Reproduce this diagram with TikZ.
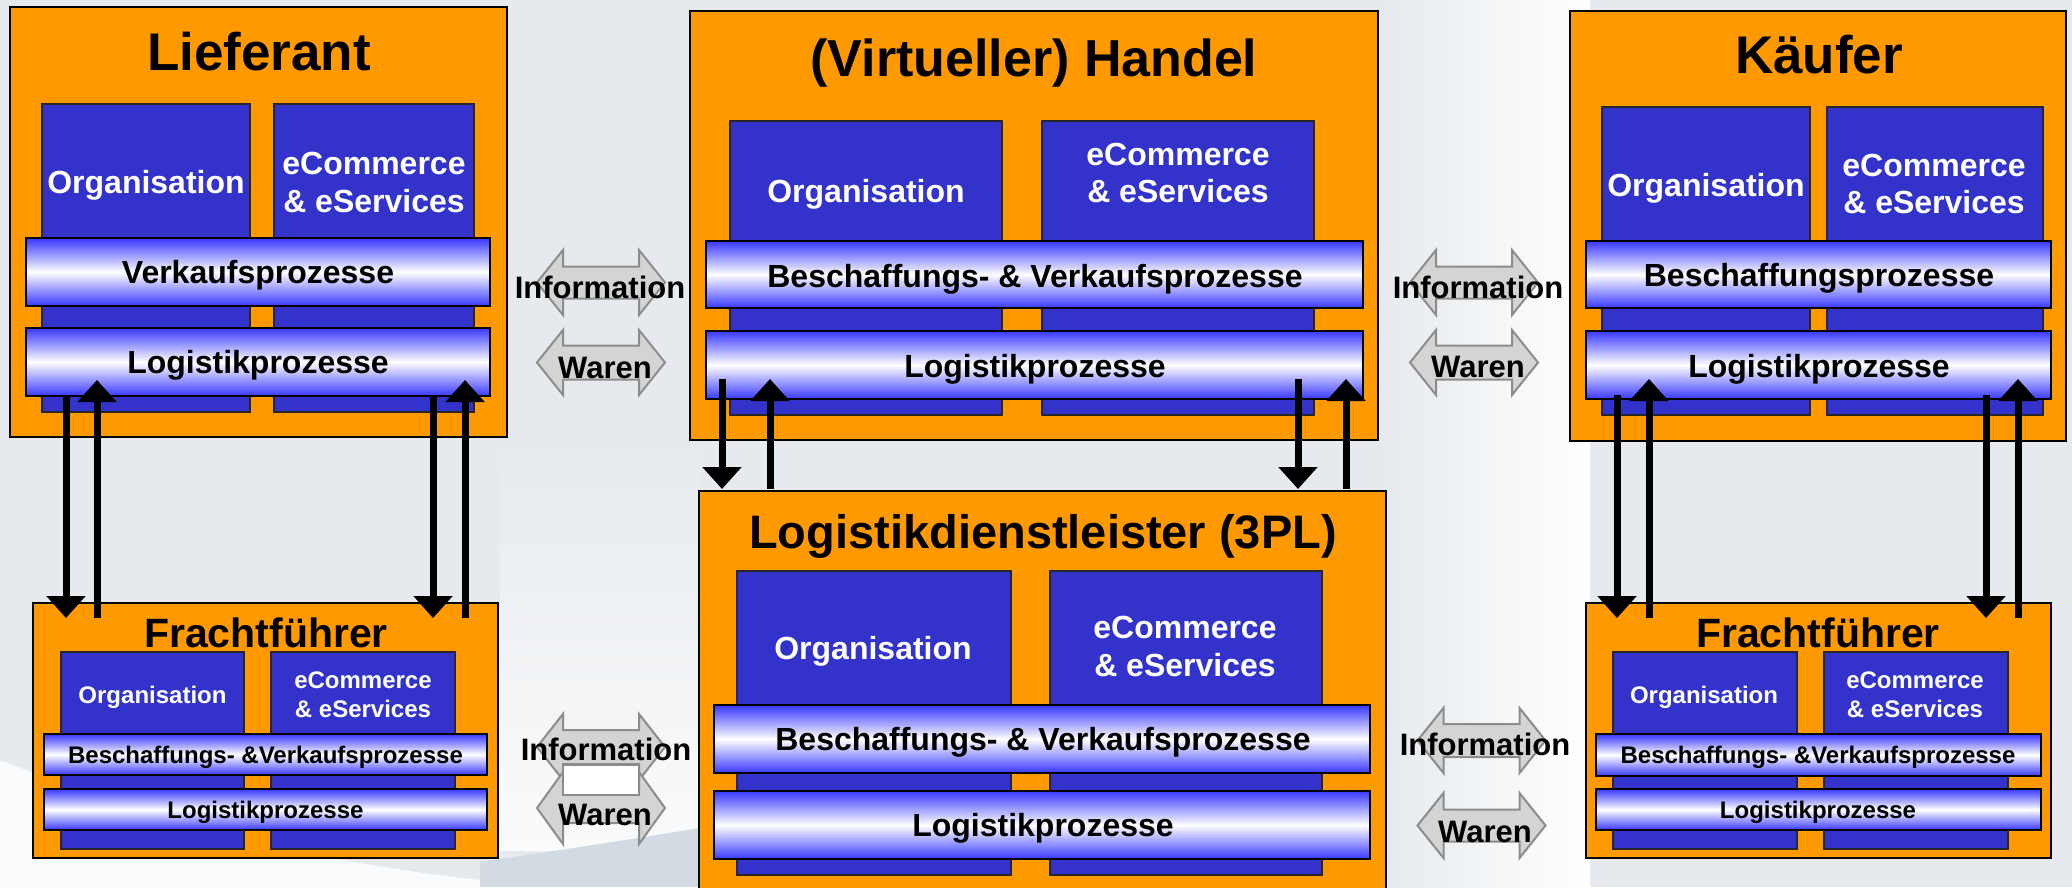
\documentclass[tikz,border=0pt]{standalone}
\usepackage{fontspec}
\setmainfont{Liberation Sans}
\usetikzlibrary{arrows.meta}
\definecolor{orng}{HTML}{FF9900}
\definecolor{dblue}{HTML}{3333CC}
\definecolor{bblue}{HTML}{3838FF}
\definecolor{bgc}{HTML}{E6EAEE}
\definecolor{bgdark}{HTML}{D2DBE1}
\definecolor{garr}{HTML}{D4D4D4}
\definecolor{garrline}{HTML}{8C8C8C}
\newcommand\rbx[6]{\node[#1,minimum width={#4-#2},minimum height={#5-#3}] (#6) at ({(#2+#4)/2},{(#3+#5)/2}) {};}
\newcommand\garrow[4]{\path[garrowst,shift={(#1,#2)}] (-64,0) -- (-38,-#3) -- (-38,-#4) -- (38,-#4) -- (38,-#3) -- (64,0) -- (38,#3) -- (38,#4) -- (-38,#4) -- (-38,#3) -- cycle;}
\tikzset{
  outerbox/.style={rectangle,draw=black,line width=2pt,fill=orng,inner sep=0pt,outer sep=0pt},
  innerbox/.style={rectangle,draw=black!85,line width=2pt,fill=dblue,inner sep=0pt,outer sep=0pt},
  procbar/.style={rectangle,draw=black,line width=2pt,top color=bblue,bottom color=bblue,middle color=white,inner sep=0pt,outer sep=0pt},
  txt/.style={anchor=base,inner sep=0pt,outer sep=0pt,font=\bfseries},
  bigtitle/.style={txt,font=\fontsize{53}{60}\selectfont\bfseries},
  midtitle/.style={txt,font=\fontsize{47}{54}\selectfont\bfseries},
  smalltitle/.style={txt,font=\fontsize{41}{48}\selectfont\bfseries},
  midtext/.style={txt,font=\fontsize{32}{37}\selectfont\bfseries},
  smalltext/.style={txt,font=\fontsize{24}{29}\selectfont\bfseries},
  whitemid/.style={midtext,text=white},
  whitesmall/.style={smalltext,text=white},
  arrtext/.style={txt,font=\fontsize{31}{36}\selectfont\bfseries},
  garrowst/.style={fill=garr,draw=garrline,line width=2pt,line join=miter},
  blk/.style={line width=7pt,-{Triangle[width=38pt,length=22pt]}}
}
\begin{document}
\begin{tikzpicture}[x=1pt,y=-1pt]
\clip (0,0) rectangle (2072,887);
\fill[bgc] (0,0) rectangle (2072,887);
% background swoosh
\shade[left color=bgc,right color=white] (1380,0) rectangle (1590,887);
\shade[top color=bgc,bottom color=white!80!bgc] (500,440) rectangle (700,850);
\fill[white!80!bgc] (0,760) .. controls (150,820) and (300,860) .. (480,880) -- (480,887) -- (0,887) -- cycle;
\fill[bgdark] (480,887) -- (480,862) .. controls (560,850) and (640,838) .. (700,828) -- (700,887) -- cycle;

% ---------- Lieferant ----------
\rbx{outerbox}{10}{7}{507}{437}{Lout}
\rbx{innerbox}{42}{104}{250}{412}{Lorg}
\rbx{innerbox}{274}{104}{474}{412}{Lecom}
\rbx{procbar}{26}{238}{490}{306}{Lbar1}
\rbx{procbar}{26}{328}{490}{396}{Lbar2}
\node[bigtitle] (Lt) at (259,70) {Lieferant};
\node[whitemid] (Lto) at (146,193) {Organisation};
\node[whitemid] (Lte1) at (374,174) {eCommerce};
\node[whitemid] (Lte2) at (374,212) {\& eServices};
\node[midtext] (Ltb1) at (258,283) {Verkaufsprozesse};
\node[midtext] (Ltb2) at (258,373) {Logistikprozesse};

% ---------- Handel ----------
\rbx{outerbox}{690}{11}{1378}{440}{Hout}
\rbx{innerbox}{730}{121}{1002}{415}{Horg}
\rbx{innerbox}{1042}{121}{1314}{415}{Hecom}
\rbx{procbar}{706}{241}{1363}{308}{Hbar1}
\rbx{procbar}{706}{331}{1363}{399}{Hbar2}
\node[bigtitle,font=\fontsize{52}{60}\selectfont\bfseries] (Ht) at (1034,76) {(Virtueller) Handel};
\node[whitemid] (Hto) at (866,202) {Organisation};
\node[whitemid] (Hte1) at (1178,165) {eCommerce};
\node[whitemid] (Hte2) at (1178,202) {\& eServices};
\node[midtext] (Htb1) at (1035,287) {Beschaffungs- \& Verkaufsprozesse};
\node[midtext] (Htb2) at (1035,377) {Logistikprozesse};

% ---------- Kaeufer ----------
\rbx{outerbox}{1570}{11}{2066}{441}{Kout}
\rbx{innerbox}{1602}{107}{1810}{415}{Korg}
\rbx{innerbox}{1827}{107}{2043}{415}{Kecom}
\rbx{procbar}{1586}{241}{2051}{308}{Kbar1}
\rbx{procbar}{1586}{331}{2051}{399}{Kbar2}
\node[bigtitle] (Kt) at (1819,73) {Käufer};
\node[whitemid] (Kto) at (1706,196) {Organisation};
\node[whitemid] (Kte1) at (1934,176) {eCommerce};
\node[whitemid] (Kte2) at (1934,213) {\& eServices};
\node[midtext] (Ktb1) at (1819,286) {Beschaffungsprozesse};
\node[midtext] (Ktb2) at (1819,377) {Logistikprozesse};

% ---------- 3PL ----------
\rbx{outerbox}{699}{491}{1386}{905}{Pout}
\rbx{innerbox}{737}{571}{1011}{875}{Porg}
\rbx{innerbox}{1050}{571}{1322}{875}{Pecom}
\rbx{procbar}{714}{705}{1370}{773}{Pbar1}
\rbx{procbar}{714}{791}{1370}{859}{Pbar2}
\node[midtitle] (Pt) at (1043,548) {Logistikdienstleister (3PL)};
\node[whitemid] (Pto) at (873,659) {Organisation};
\node[whitemid] (Pte1) at (1185,638) {eCommerce};
\node[whitemid] (Pte2) at (1185,676) {\& eServices};
\node[midtext] (Ptb1) at (1043,750.5) {Beschaffungs- \& Verkaufsprozesse};
\node[midtext] (Ptb2) at (1043,836.5) {Logistikprozesse};

% ---------- Frachtfuehrer left ----------
\rbx{outerbox}{33}{603}{498}{858}{Fout}
\rbx{innerbox}{61}{652}{244}{849}{Forg}
\rbx{innerbox}{271}{652}{455}{849}{Fecom}
\rbx{procbar}{44}{734}{487}{775}{Fbar1}
\rbx{procbar}{44}{789}{487}{830}{Fbar2}
\node[smalltitle] (Ft) at (266,647) {Frachtführer};
\node[whitesmall] (Fto) at (152.5,703) {Organisation};
\node[whitesmall] (Fte1) at (363,688) {eCommerce};
\node[whitesmall] (Fte2) at (363,717) {\& eServices};
\node[smalltext] (Ftb1) at (265.5,763) {Beschaffungs- \&Verkaufsprozesse};
\node[smalltext] (Ftb2) at (265.5,818) {Logistikprozesse};

% ---------- Frachtfuehrer right ----------
\rbx{outerbox}{1586}{603}{2051}{858}{Gout}
\rbx{innerbox}{1613}{652}{1797}{849}{Gorg}
\rbx{innerbox}{1824}{652}{2008}{849}{Gecom}
\rbx{procbar}{1596}{734}{2041}{776}{Gbar1}
\rbx{procbar}{1596}{789}{2041}{830}{Gbar2}
\node[smalltitle] (Gt) at (1818,647) {Frachtführer};
\node[whitesmall] (Gto) at (1704,703) {Organisation};
\node[whitesmall] (Gte1) at (1915,688) {eCommerce};
\node[whitesmall] (Gte2) at (1915,717) {\& eServices};
\node[smalltext] (Gtb1) at (1818,763) {Beschaffungs- \&Verkaufsprozesse};
\node[smalltext] (Gtb2) at (1818,818) {Logistikprozesse};

% ---------- black arrows ----------
\coordinate (L1a) at (66,396);   \coordinate (L1b) at (66,618);
\coordinate (L2a) at (97,618);   \coordinate (L2b) at (97,380);
\coordinate (L3a) at (433,396);  \coordinate (L3b) at (433,618);
\coordinate (L4a) at (465,618);  \coordinate (L4b) at (465,380);
\coordinate (H1a) at (722,379);  \coordinate (H1b) at (722,489);
\coordinate (H2a) at (770,489);  \coordinate (H2b) at (770,379);
\coordinate (H3a) at (1298,379); \coordinate (H3b) at (1298,489);
\coordinate (H4a) at (1346,489); \coordinate (H4b) at (1346,379);
\coordinate (K1a) at (1617,395); \coordinate (K1b) at (1617,618);
\coordinate (K2a) at (1649,618); \coordinate (K2b) at (1649,379);
\coordinate (K3a) at (1986,395); \coordinate (K3b) at (1986,618);
\coordinate (K4a) at (2018,618); \coordinate (K4b) at (2018,379);
\foreach \a in {L1,L2,L3,L4,H1,H2,H3,H4,K1,K2,K3,K4}{\draw[blk] (\a a) -- (\a b);}

% ---------- gray double arrows ----------
\garrow{601}{282.5}{32.5}{16}
\node[arrtext] (i1) at (600,298) {Information};
\garrow{601}{362.5}{32.5}{17}
\node[arrtext] (w1) at (605,378) {Waren};
\garrow{1474}{282.5}{32.5}{16}
\node[arrtext] (i2) at (1478,298) {Information};
\garrow{1474}{362.5}{32.5}{17}
\node[arrtext] (w2) at (1478,377) {Waren};
\garrow{601}{747}{33}{17}
\garrow{601}{808}{36}{15}
\path[fill=white,draw=garrline,line width=2pt] (563,765) rectangle (639,795);
\node[arrtext] (i3) at (606,760) {Information};
\node[arrtext] (w3) at (605,825) {Waren};
\garrow{1481.5}{740.5}{32.5}{16.5}
\node[arrtext] (i4) at (1485,755) {Information};
\garrow{1481.5}{825.5}{32.5}{16}
\node[arrtext] (w4) at (1485,842) {Waren};
\end{tikzpicture}
\end{document}
